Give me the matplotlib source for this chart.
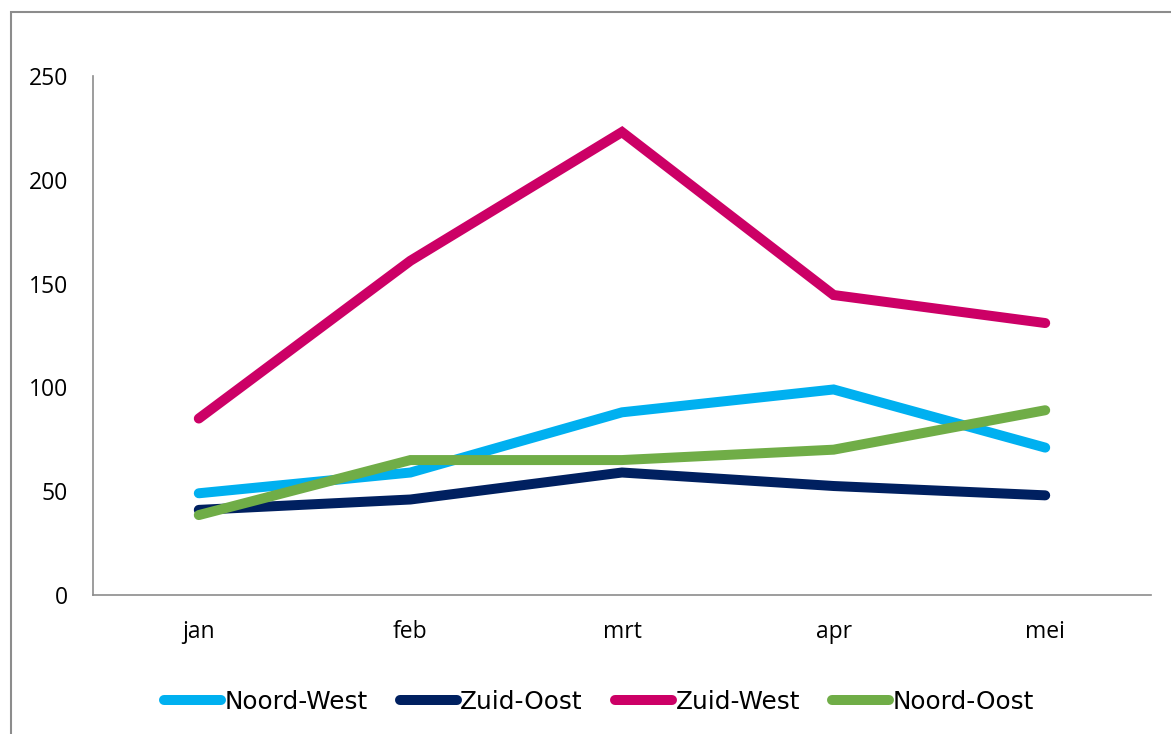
import matplotlib
matplotlib.use("Agg")
import matplotlib.pyplot as plt
from matplotlib.patches import Rectangle
from matplotlib.lines import Line2D

# maanden en waarden per regio
months = ["jan", "feb", "mrt", "apr", "mei"]
noord_west = [49, 59, 88, 99, 71]
zuid_oost = [41, 46, 59, 52.5, 48]
zuid_west = [85, 161, 223, 144.5, 131]
noord_oost = [38.5, 65, 65, 70, 89]

series = [
    ("Noord-West", noord_west, "#00B0F0"),
    ("Zuid-Oost", zuid_oost, "#002060"),
    ("Zuid-West", zuid_west, "#CC0066"),
    ("Noord-Oost", noord_oost, "#70AD47"),
]

fig = plt.figure(figsize=(11.71, 7.34), dpi=100)
W, H = 1171, 734

# buitenkader
fig.patches.append(Rectangle((11 / W, -0.1), 1.2, 1 - 12 / H + 0.1,
                             transform=fig.transFigure, fill=False,
                             edgecolor="#8c8c8c", linewidth=1.5))

ax = fig.add_axes([93 / W, 1 - 595 / H, (1151 - 93) / W, (595 - 76) / H])

x = list(range(len(months)))
for name, vals, col in series:
    ax.plot(x, vals, color=col, linewidth=7.2, solid_capstyle="round",
            solid_joinstyle="miter", label=name)

ax.set_xlim(-0.5, 4.5)
ax.set_ylim(0, 250)
ax.set_yticks([0, 50, 100, 150, 200, 250])
ax.set_xticks(x)
ax.set_xticklabels(months)
for s in ["top", "right"]:
    ax.spines[s].set_visible(False)
for s in ["left", "bottom"]:
    ax.spines[s].set_color("#8c8c8c")
    ax.spines[s].set_linewidth(1.2)
ax.tick_params(length=0, labelsize=16.5)
ax.tick_params(axis="y", pad=18)
ax.tick_params(axis="x", pad=18)
for lab in ax.get_xticklabels() + ax.get_yticklabels():
    lab.set_fontfamily("Open Sans")

handles = [Line2D([0], [0], color=c, linewidth=7.2, solid_capstyle="round")
           for _, _, c in series]
fig.legend(handles, [n for n, _, _ in series], loc="center",
           bbox_to_anchor=(599 / W, 1 - 702 / H), ncol=4, frameon=False,
           prop={"family": "DejaVu Sans", "size": 17.8}, handlelength=2.3,
           handletextpad=0.15, columnspacing=1.3)

fig.savefig("out.png", dpi=100)
